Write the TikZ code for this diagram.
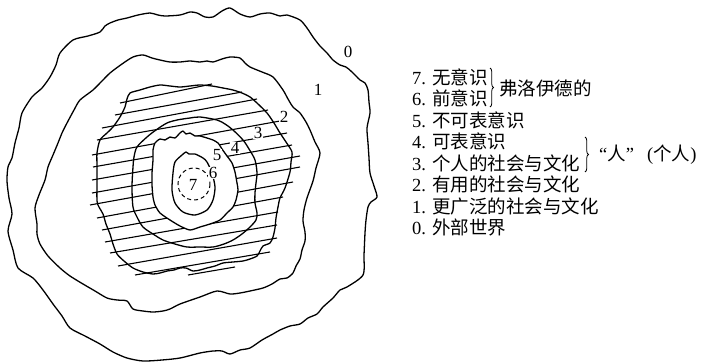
\documentclass[tikz,border=0pt]{standalone}
\usepackage{fontspec}
\setmainfont{Liberation Serif}
\newfontfamily\cjk{Noto Sans CJK SC}
\usetikzlibrary{decorations.pathreplacing}
\tikzset{
  contour/.style={draw=black, line width=1.3pt, line join=round},
  hatch/.style={draw=black, line width=1.1pt},
  num/.style={font=\fontsize{17}{17}\selectfont, fill=white, inner sep=0.6pt},
  listtext/.style={font=\fontsize{18.5}{19}\selectfont, anchor=west, inner sep=0pt},
  bracestyle/.style={draw=black, line width=0.8pt, decorate, decoration={brace, amplitude=3.5pt}}
}
\begin{document}
\begin{tikzpicture}[x=1pt,y=-1pt]
\useasboundingbox (0,0) rectangle (702,362);
% outer contour 0/1
\draw[contour] plot[smooth cycle, tension=0.45] coordinates {
(7,181) (8,167) (12,158) (15,143) (19,128) (22,113) (32,97) (42,88) (50,77) (56,65) (60,53)
(73,40) (88,36) (100,32) (105,26) (110,23) (118,20) (127,18) (138,15) (150,13) (158,15)
(165,16) (180,15) (190,12) (197,13) (205,17) (213,17) (222,11) (230,8) (240,14) (250,17)
(260,14) (270,13) (280,16) (287,15) (300,20) (307,28) (313,37) (320,46) (327,53) (333,60)
(340,65) (346,67) (352,72) (360,80) (365,83) (368,90) (369,102) (370,113) (367,128)
(368,143) (369,158) (370,173) (374,186) (377,197) (371,202) (368,207) (366,220) (365,233)
(364,255) (363,275) (347,287) (340,290) (333,298) (323,307) (317,314) (308,318) (300,324)
(290,326) (280,330) (273,334) (262,340) (250,348) (240,350) (230,354) (222,351) (213,351)
(200,353) (180,358) (162,360) (143,361) (127,358) (113,352) (100,344) (85,336) (70,328)
(62,316) (53,304) (43,290) (33,278) (18,268) (13,250) (8,231) (12,214) (9,198)};
% contour 1/2
\draw[contour] plot[smooth cycle, tension=0.45] coordinates {
(45,180) (48,167) (53,155) (58,143) (62,133) (67,123) (74,110) (80,100) (93,90) (102,81)
(110,73) (122,64) (133,57) (143,55) (152,58) (160,60) (170,62) (180,62) (190,61) (200,62)
(207,61) (213,62) (222,59) (230,57) (240,58) (245,63) (250,67) (262,72) (273,77) (283,90)
(288,99) (293,107) (300,113) (306,122) (310,130) (315,142) (320,153) (316,168) (313,181)
(307,198) (304,210) (303,221) (305,232) (305,241) (302,250) (300,259) (296,266) (293,273)
(287,278) (280,279) (272,284) (263,288) (250,291) (240,293) (230,294) (217,291) (200,297)
(180,304) (170,309) (163,311) (153,312) (143,311) (133,309) (127,301) (117,300) (107,298)
(95,291) (83,284) (70,276) (60,268) (48,256) (40,244) (37,234) (37,224) (35,208) (39,195)};
% hatching
\draw[hatch] (120,103) -- (212,84);
\draw[hatch] (115,115) -- (242,92);
\draw[hatch] (102,128) -- (257,99);
\draw[hatch] (97,140) -- (268,110);
\draw[hatch] (92,155) -- (280,121);
\draw[hatch] (93,167) -- (287,133);
\draw[hatch] (92,180) -- (292,145);
\draw[hatch] (92,193) -- (300,156);
\draw[hatch] (90,205) -- (300,167);
\draw[hatch] (97,218) -- (293,182);
\draw[hatch] (102,230) -- (283,197);
\draw[hatch] (105,242) -- (278,212);
\draw[hatch] (110,253) -- (277,225);
\draw[hatch] (118,266) -- (277,238);
\draw[hatch] (135,275) -- (270,252);
\draw[hatch] (188,275) -- (235,267);
% contour 2/3
\draw[contour] plot[smooth cycle, tension=0.45] coordinates {
(97,180) (97,166) (97,153) (100,140) (107,133) (113,127) (120,117) (125,107) (127,99)
(130,93) (140,90) (150,87) (160,85) (170,86) (180,87) (190,86) (200,85) (212,86) (223,88)
(233,90) (242,93) (250,97) (257,103) (267,113) (274,123) (280,133) (286,142) (292,152)
(291,162) (290,172) (285,188) (280,198) (278,207) (276,218) (275,228) (273,237) (270,243)
(263,246) (260,251) (257,256) (250,259) (243,261) (233,262) (223,263) (215,266) (207,268)
(200,270) (193,271) (186,268) (180,268) (174,270) (167,271) (160,273) (153,274) (143,272)
(133,268) (124,261) (117,254) (113,244) (110,234) (106,224) (103,214) (99,207) (97,201)};
% contour 3/4
\draw[contour] plot[smooth cycle, tension=0.5] coordinates {
(190,118) (177,120) (167,123) (156,130) (147,137) (137,147) (134,157) (133,167) (132,187)
(133,207) (137,217) (143,227) (153,234) (163,240) (175,244) (187,247) (200,247) (213,247)
(224,244) (233,240) (242,234) (250,227) (256,220) (257,213) (255,203) (255,193) (256,183)
(257,173) (255,160) (249,149) (243,140) (233,130) (225,124) (217,120) (200,117)};
% contour 4/5 (white inside)
\filldraw[contour, fill=white] plot[smooth cycle, tension=0.4] coordinates {
(155,143) (160,139) (165,140) (170,137) (175,138) (180,133) (183,131) (186,134) (190,133)
(195,136) (200,136) (207,138) (213,140) (218,143) (222,149) (227,156) (232,163) (235,172)
(237,183) (238,190) (236,200) (233,207) (227,213) (220,220) (210,224) (200,227) (190,230)
(180,226) (170,220) (160,213) (155,205) (153,197) (152,185) (152,173) (153,160) (153,150)};
% contour 5/6
\draw[contour] plot[smooth cycle, tension=0.45] coordinates {
(182,155) (186,152) (189,154) (195,154) (203,158) (207,162) (212,173) (215,187) (213,200)
(207,210) (195,215) (183,212) (175,203) (172,190) (173,173) (175,162)};
% dashed circle 6/7
\draw[black, line width=1.0pt, dash pattern=on 4pt off 3pt] (194,184) circle [radius=16];
% region numbers
\node[num] (n0) at (348,52) {0};
\node[num] (n1) at (318,90) {1};
\node[num] (n2) at (284,117) {2};
\node[num] (n3) at (258,133) {3};
\node[num] (n4) at (235,148) {4};
\node[num] (n5) at (217,155) {5};
\node[num] (n6) at (213,173) {6};
\node[num, fill=none] (n7) at (193,185) {7};
% list
\node[listtext] (l7) at (412,77) {7. {\cjk 无意识}};
\node[listtext] (l6) at (412,98.5) {6. {\cjk 前意识}};
\node[listtext] (l5) at (412,120) {5. {\cjk 不可表意识}};
\node[listtext] (l4) at (412,141.5) {4. {\cjk 可表意识}};
\node[listtext] (l3) at (412,163) {3. {\cjk 个人的社会与文化}};
\node[listtext] (l2) at (412,184.5) {2. {\cjk 有用的社会与文化}};
\node[listtext] (l1) at (412,206) {1. {\cjk 更广泛的社会与文化}};
\node[listtext] (l0) at (412,227.5) {0. {\cjk 外部世界}};
% braces
\coordinate (b1t) at (490,68);
\coordinate (b1b) at (490,107);
\coordinate (b2t) at (585,137);
\coordinate (b2b) at (585,172);
\draw[bracestyle] (b1t) -- (b1b);
\draw[bracestyle] (b2t) -- (b2b);
\node[listtext] (fr) at (499,88) {\cjk 弗洛伊德的};
\node[listtext] (ren) at (599,155) {“{\cjk 人}”\hspace{13pt}({\cjk 个人})};
\end{tikzpicture}
\end{document}
